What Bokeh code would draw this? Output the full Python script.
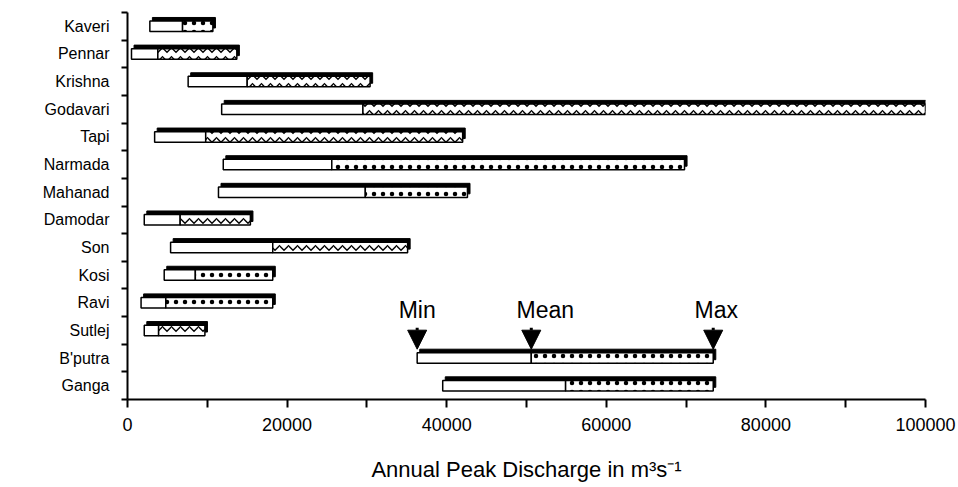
from bokeh.plotting import figure
from bokeh.models import Range1d, FixedTicker, Arrow, NormalHead, Label, ColumnDataSource
from bokeh.embed import file_html
from bokeh.resources import INLINE

rivers = ["Ganga", "B'putra", "Sutlej", "Ravi", "Kosi", "Son", "Damodar",
          "Mahanad", "Narmada", "Tapi", "Godavari", "Krishna", "Pennar", "Kaveri"]
q_min = [39500, 36300, 2100, 1700, 4600, 5400, 2100, 11400, 12000, 3400, 11800, 7600, 500, 2800]
q_mean = [54900, 50600, 3900, 4800, 8500, 18200, 6600, 29800, 25600, 9800, 29500, 15000, 3800, 6900]
q_max = [73400, 73400, 9700, 18200, 18200, 35100, 15400, 42600, 69800, 42000, 100000, 30400, 13700, 10700]
pattern = ["dot", "dot", "wave", "dot", "dot", "wave", "wave",
           "dot", "dot", "wave", "wave", "wave", "wave", "dot"]
x_ticks = [0, 20000, 40000, 60000, 80000, 100000]
x_minor = [10000, 30000, 50000, 70000, 90000]

FONT = "Liberation Sans"
h = 0.19
dy = 0.13
dx = 320

ys = list(range(len(rivers)))
hatch = [{"dot": ".", "wave": "v"}[p] for p in pattern]
src = ColumnDataSource(dict(
    y=ys, mn=q_min, me=q_mean, mx=q_max, hatch=hatch,
    b=[y - h for y in ys], t=[y + h for y in ys],
    sb=[y - h + dy for y in ys], st=[y + h + dy for y in ys],
    sl=[v + dx for v in q_min], sr=[v + dx for v in q_max],
))

p = figure(frame_width=798, frame_height=387, output_backend="svg", toolbar_location=None,
           x_range=Range1d(0, 100000), y_range=Range1d(-0.5, len(rivers) - 0.5),
           min_border_left=127, min_border_top=12, min_border_right=32, min_border_bottom=82)
p.outline_line_color = None
p.xgrid.visible = False
p.ygrid.visible = False

# shadow
p.quad(left="sl", right="sr", bottom="sb", top="st", source=src,
       fill_color="black", line_color="black")
# min -> mean (white)
p.quad(left="mn", right="me", bottom="b", top="t", source=src,
       fill_color="white", line_color="black", line_width=1.5)
# mean -> max (patterned)
p.quad(left="me", right="mx", bottom="b", top="t", source=src,
       fill_color="white", line_color="black", line_width=1.5,
       hatch_pattern="hatch", hatch_color="black", hatch_scale=9, hatch_weight=1.3)

# x axis
xa = p.xaxis[0]
xa.ticker = FixedTicker(ticks=x_ticks, minor_ticks=x_minor)
xa.major_label_overrides = {v: str(v) for v in x_ticks}
xa.axis_line_width = 2
xa.major_tick_line_width = 2
xa.minor_tick_line_width = 2
xa.major_tick_in = 0
xa.major_tick_out = 8
xa.minor_tick_in = 0
xa.minor_tick_out = 8
xa.major_label_text_font = FONT
xa.major_label_text_font_size = "18px"
xa.major_label_text_color = "black"
xa.major_label_standoff = 10
xa.axis_label = "Annual Peak Discharge in m³s⁻¹"
xa.axis_label_text_font = FONT
xa.axis_label_text_font_size = "22px"
xa.axis_label_text_font_style = "normal"
xa.axis_label_text_color = "black"
xa.axis_label_standoff = 23

# y axis
ya = p.yaxis[0]
ya.ticker = FixedTicker(ticks=ys, minor_ticks=[y - 0.5 for y in ys] + [len(ys) - 0.5])
ya.major_label_overrides = {i: r for i, r in enumerate(rivers)}
ya.axis_line_width = 2
ya.major_tick_line_color = None
ya.major_tick_in = 0
ya.major_tick_out = 0
ya.minor_tick_line_width = 2
ya.minor_tick_in = 0
ya.minor_tick_out = 6
ya.major_label_text_font = FONT
ya.major_label_text_font_size = "16px"
ya.major_label_text_color = "black"
ya.major_label_standoff = 12

# Min / Mean / Max annotation on B'putra
bi = rivers.index("B'putra")
for name, v, off in (("Min", q_min[bi], 0), ("Mean", q_mean[bi], 14), ("Max", q_max[bi], 3)):
    p.add_layout(Arrow(x_start=v, x_end=v, y_start=bi + 1.1, y_end=bi + h + dy,
                       line_width=3, line_color="black",
                       end=NormalHead(size=19, fill_color="black", line_color="black")))
    p.add_layout(Label(x=v, y=bi + 1.28, text=name, text_align="center",
                       text_font=FONT, text_font_size="23px", text_color="black",
                       x_offset=off))

open("out.html", "w").write(file_html(p, INLINE))
